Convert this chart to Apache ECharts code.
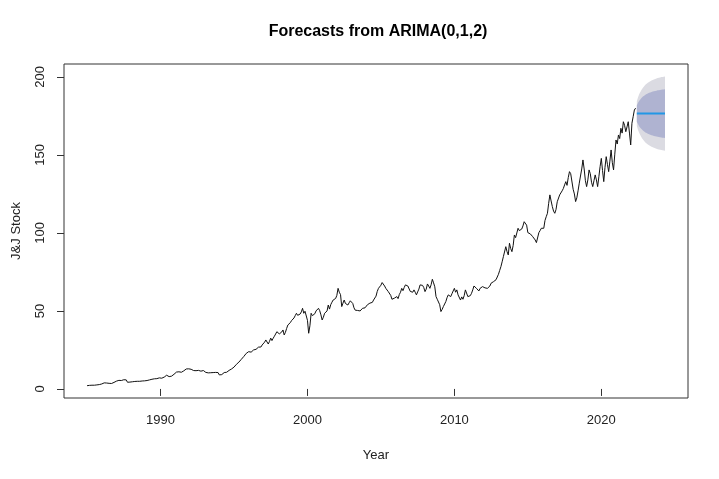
<!DOCTYPE html>
<html>
<head>
<meta charset="utf-8">
<script src="https://cdn.jsdelivr.net/npm/echarts/dist/echarts.min.js"></script>
<style>
  html, body { margin: 0; padding: 0; background: #fff; }
  #c { width: 719px; height: 479px; }
</style>
</head>
<body>
<div id="c"></div>
<script>
// Monthly J&J stock price, Jan 1985 .. May 2022
const prices1985_1994 = [
  2.1, 2.2, 2.3, 2.3, 2.4, 2.5, 2.4, 2.5, 2.6, 2.7, 2.8, 3.0,
  3.2, 3.5, 3.9, 4.0, 3.8, 3.9, 3.6, 3.7, 3.5, 3.8, 4.2, 4.6,
  5.0, 5.3, 5.5, 5.2, 5.4, 5.7, 5.9, 6.0, 5.8, 4.3, 4.2, 4.4,
  4.5, 4.6, 4.7, 4.8, 4.7, 4.9, 4.8, 4.9, 5.0, 5.1, 5.0, 5.2,
  5.3, 5.4, 5.6, 5.8, 5.9, 6.2, 6.4, 6.5, 6.3, 6.6, 6.9, 7.1,
  7.2, 6.9, 7.3, 7.6, 8.0, 8.8, 8.5, 7.9, 7.8, 8.2, 8.6, 9.4,
  10.0, 10.8, 11.5, 11.0, 10.5, 10.7, 11.2, 11.6, 12.1, 12.8, 13.7, 12.9,
  12.2, 12.6, 12.0, 11.8, 11.5, 11.7, 12.3, 11.9, 11.6, 11.4, 11.5, 11.8,
  11.2, 10.6, 10.0, 10.3, 10.8, 10.4, 10.0, 10.5, 10.9, 10.6, 10.3, 10.5,
  9.0, 9.4, 9.2, 9.8, 10.5, 10.0, 10.7, 11.4, 11.9, 12.4, 12.8, 13.3
];
const prices1995_2004 = [
  14.0, 14.6, 15.8, 16.5, 17.2, 17.8, 19.0, 19.6, 20.8, 21.8, 22.8, 23.4,
  23.9, 24.3, 23.6, 24.5, 25.0, 24.6, 25.4, 25.9, 26.8, 27.5, 26.9, 28.2,
  28.2, 30.0, 31.4, 30.2, 28.8, 30.5, 32.6, 31.0, 32.5, 33.8, 35.2, 36.7,
  36.7, 35.3, 34.6, 36.5, 37.8, 34.6, 36.3, 38.8, 41.0, 40.2, 42.5, 43.8,
  44.2, 45.5, 47.0, 48.5, 47.2, 46.3, 48.0, 49.4, 51.7, 48.5, 49.8, 50.6,
  44.0, 35.7, 40.5, 48.5, 47.0, 46.3, 48.2, 50.0, 49.5, 51.7, 50.2, 47.5,
  44.2, 46.0, 48.5, 47.4, 50.0, 53.8, 51.2, 54.0, 55.6, 57.0, 56.2, 58.0,
  60.0, 64.5, 62.0, 60.5, 52.8, 55.0, 57.0, 54.8, 55.8, 53.8, 55.2, 56.5,
  56.0, 54.8, 52.0, 50.5, 49.6, 50.3, 51.5, 50.0, 49.8, 51.7, 50.5, 52.0,
  52.8, 54.0, 53.0, 55.0, 56.2, 55.5, 57.0, 58.2, 59.5, 62.5, 64.5, 65.0
];
const prices2005_2014 = [
  66.5, 68.2, 67.0, 66.0, 64.5, 63.6, 62.4, 61.5, 60.0, 57.5, 58.5, 58.2,
  58.8, 59.2, 57.9, 60.5, 62.0, 64.5, 63.0, 65.0, 66.7, 65.8, 66.0, 66.0,
  62.5, 61.3, 62.0, 63.5, 62.0, 60.3, 62.2, 64.0, 66.7, 65.5, 66.4, 65.0,
  62.4, 64.0, 67.3, 66.0, 64.5, 66.8, 70.3, 68.0, 65.5, 59.2, 57.5, 56.5,
  54.0, 49.6, 51.0, 52.8, 53.8, 56.0, 58.5, 60.3, 59.5, 59.2, 61.0, 62.8,
  64.5, 62.0, 63.5, 60.3, 59.2, 57.0, 59.0, 57.5, 59.8, 63.5, 62.4, 59.2,
  60.0, 59.8, 61.3, 63.5, 66.0, 65.4, 64.5, 63.8, 62.8, 64.5, 64.0, 65.6,
  65.6, 64.8, 65.5, 64.5, 63.8, 66.0, 67.8, 67.0, 68.8, 69.5, 70.0, 71.0,
  73.5, 76.0, 78.4, 81.5, 84.8, 86.0, 91.2, 88.0, 85.9, 93.4, 90.0, 88.0,
  92.0, 98.7, 97.0, 100.0, 103.0, 101.5, 100.8, 102.5, 104.5, 107.2, 106.0, 105.0
];
const prices2015_2022 = [
  100.2, 101.0, 99.4, 100.5, 97.6, 98.0, 95.5, 93.8, 93.5, 100.2, 101.5, 103.0,
  102.5, 103.0, 108.0, 110.4, 112.6, 119.0, 124.4, 120.5, 116.9, 114.0, 112.6, 115.0,
  120.0, 119.0, 124.4, 125.5, 127.0, 128.5, 130.8, 132.9, 130.5, 135.5, 139.3, 138.0,
  137.2, 128.0, 125.0, 120.1, 122.5, 127.0, 131.9, 136.5, 141.0, 146.8, 141.0, 133.5,
  129.7, 134.0, 140.4, 138.0, 132.5, 129.7, 133.5, 137.2, 134.0, 129.7, 136.0, 142.5,
  147.8, 140.0, 132.9, 142.0, 148.9, 144.0, 139.3, 146.0, 153.2, 145.0, 140.4, 150.5,
  159.6, 157.0, 162.8, 160.5, 167.1, 164.0, 171.3, 169.0, 164.9, 168.0, 171.3, 164.0,
  156.4, 170.3, 174.5, 178.8, 180.0
];
const startYear = 1985;

// 24-month forecast, Jun 2022 .. May 2024
const forecastStart = 2022 + 5 / 12;
const fcMean = [176.5, 176.5, 176.5, 176.5, 176.5, 176.5, 176.5, 176.5, 176.5, 176.5, 176.5, 176.5,
                176.5, 176.5, 176.5, 176.5, 176.5, 176.5, 176.5, 176.5, 176.5, 176.5, 176.5, 176.5];
const fcUpper95 = [184.5, 187.0, 189.0, 190.5, 191.9, 193.1, 194.1, 195.0, 195.7, 196.3, 196.8, 197.3,
                   197.7, 198.1, 198.4, 198.7, 199.0, 199.3, 199.5, 199.7, 199.9, 200.0, 200.2, 200.3];
const fcLower95 = [168.5, 166.0, 164.0, 162.5, 161.1, 159.9, 158.9, 158.0, 157.3, 156.7, 156.2, 155.7,
                   155.3, 154.9, 154.6, 154.3, 154.0, 153.7, 153.5, 153.3, 153.1, 153.0, 152.8, 152.7];
const fcUpper80 = [181.7, 183.4, 184.7, 185.7, 186.6, 187.4, 188.0, 188.6, 189.0, 189.4, 189.8, 190.1,
                   190.4, 190.6, 190.8, 191.0, 191.2, 191.4, 191.5, 191.7, 191.8, 191.9, 192.0, 192.1];
const fcLower80 = [171.3, 169.6, 168.3, 167.3, 166.4, 165.6, 165.0, 164.4, 164.0, 163.6, 163.2, 162.9,
                   162.6, 162.4, 162.2, 162.0, 161.8, 161.6, 161.5, 161.3, 161.2, 161.1, 161.0, 160.9];

const xTicks = [1990, 2000, 2010, 2020];
const yTicks = [0, 50, 100, 150, 200];

// build series data
const history = [].concat(prices1985_1994, prices1995_2004, prices2005_2014, prices2015_2022);
const histData = history.map((v, i) => [startYear + i / 12, v]);
const fcT = fcMean.map((_, i) => forecastStart + i / 12);
const pair = (arr) => arr.map((v, i) => [fcT[i], v]);

const FONT = 'Liberation Sans, Arial, sans-serif';
const col95 = '#DBDBE2';
const col80 = '#AFB3D1';

// band polygon drawn via the chart's own coordinate system
function bandSeries(lower, upper, color, z) {
  return {
    type: 'custom',
    silent: true,
    z: z,
    data: fcT.map((t, i) => [t, lower[i], upper[i]]),
    encode: { x: 0, y: [1, 2] },
    renderItem: function (params, api) {
      if (params.dataIndex !== 0) return null;
      const pts = [];
      for (let i = 0; i < fcT.length; i++) pts.push(api.coord([fcT[i], upper[i]]));
      for (let i = fcT.length - 1; i >= 0; i--) pts.push(api.coord([fcT[i], lower[i]]));
      return { type: 'polygon', shape: { points: pts }, style: { fill: color, stroke: null } };
    }
  };
}

const chart = echarts.init(document.getElementById('c'), null, { renderer: 'canvas' });
chart.setOption({
  animation: false,
  backgroundColor: '#ffffff',
  title: {
    text: 'Forecasts from ARIMA(0,1,2)',
    left: 378,
    top: 24,
    textAlign: 'center',
    padding: 0,
    textStyle: { fontFamily: FONT, fontSize: 16, fontWeight: 'bold', color: '#000' }
  },
  grid: {
    left: 64, right: 31, top: 64, bottom: 81,
    show: true, borderColor: '#333', borderWidth: 1, backgroundColor: 'transparent',
    containLabel: false, outerBoundsMode: 'none'
  },
  xAxis: {
    type: 'value',
    min: 1983.43,
    max: 2025.9,
    axisLine: { show: false },
    splitLine: { show: false },
    axisTick: { show: true, customValues: xTicks, length: 7, inside: false, lineStyle: { color: '#333', width: 1 } },
    axisLabel: { customValues: xTicks, margin: 16, fontFamily: FONT, fontSize: 13, color: '#222',
                 formatter: (v) => String(v) },
    name: 'Year',
    nameLocation: 'middle',
    nameGap: 51,
    nameTextStyle: { fontFamily: FONT, fontSize: 13, color: '#222' }
  },
  yAxis: {
    type: 'value',
    min: -5.8,
    max: 208.3,
    axisLine: { show: false },
    splitLine: { show: false },
    axisTick: { show: true, customValues: yTicks, length: 7, inside: false, lineStyle: { color: '#333', width: 1 } },
    axisLabel: { customValues: yTicks, rotate: 90, margin: 17, fontFamily: FONT, fontSize: 13, color: '#222',
                 formatter: (v) => String(v) },
    name: 'J&J Stock',
    nameLocation: 'middle',
    nameGap: 41,
    nameRotate: 90,
    nameTextStyle: { fontFamily: FONT, fontSize: 13, color: '#222' }
  },
  series: [
    bandSeries(fcLower95, fcUpper95, col95, 1),
    bandSeries(fcLower80, fcUpper80, col80, 2),
    { type: 'line', data: histData, symbol: 'none', silent: true,
      lineStyle: { color: '#111', width: 1 }, z: 3 },
    { type: 'line', data: pair(fcMean), symbol: 'none', silent: true,
      lineStyle: { color: '#2297E6', width: 2 }, z: 4 }
  ]
});
</script>
</body>
</html>
